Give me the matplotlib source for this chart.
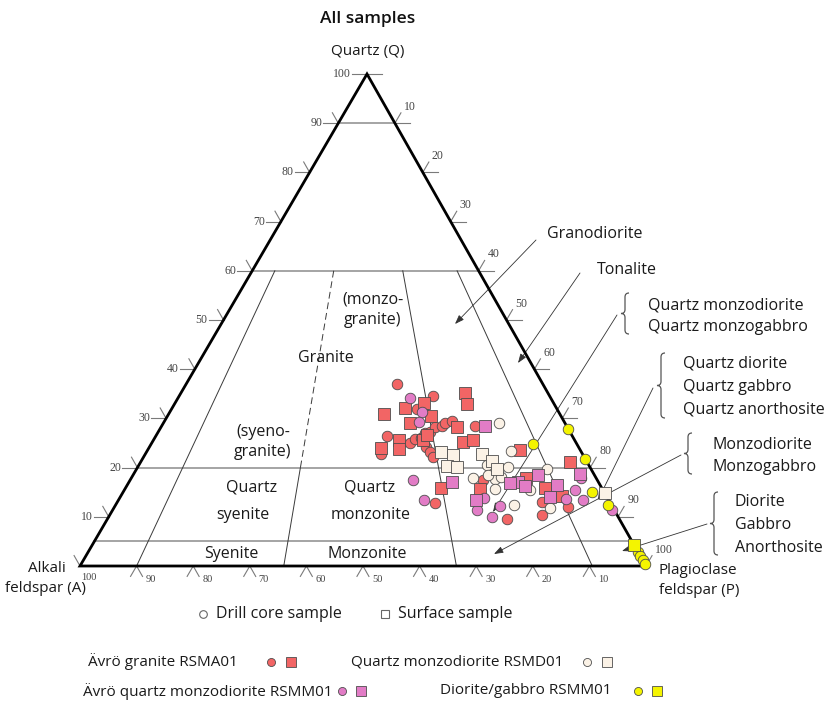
import matplotlib
matplotlib.use("Agg")
import matplotlib.pyplot as plt
import numpy as np
from matplotlib.path import Path
from matplotlib.patches import PathPatch, Polygon

plt.rcParams['font.family'] = ['Open Sans', 'DejaVu Sans']

# ---------------------------------------------------------------
# Modal compositions, % of Q+A+P  (Q = quartz, P = plagioclase,
# A = alkali feldspar = 100 - Q - P)
# ---------------------------------------------------------------
# Ävrö granite RSMA01
rsma01_core_q = [37.0, 34.6, 31.9, 28.5, 26.4, 22.8, 25.0, 25.9, 26.1, 27.0,
                 27.2, 28.2, 28.4, 29.1, 29.4, 24.2, 23.2, 22.2, 12.8, 17.5,
                 13.0, 12.0, 9.6, 10.4]
rsma01_core_p = [37.2, 44.8, 43.4, 55.4, 40.8, 41.6, 45.6, 46.0, 47.0, 47.2,
                 48.1, 48.5, 49.5, 49.8, 50.8, 48.9, 50.1, 51.1, 56.2, 62.3,
                 75.0, 80.1, 70.6, 76.4]
rsma01_surf_q = [35.2, 32.9, 33.1, 32.1, 30.9, 30.5, 29.1, 28.3, 25.6, 23.8,
                 24.0, 25.2, 25.6, 25.6, 26.6, 15.9, 15.7, 23.6, 21.1, 17.9,
                 15.9, 14.2]
rsma01_surf_p = [50.2, 51.7, 44.0, 41.1, 38.0, 46.6, 43.6, 52.3, 43.4, 44.3,
                 41.0, 54.9, 56.4, 47.6, 47.8, 55.7, 62.7, 65.8, 75.8, 69.7,
                 74.1, 77.9]

# Quartz monzodiorite RSMD01
rsmd01_core_q = [29.1, 23.4, 20.7, 20.5, 17.9, 17.7, 18.1, 18.5, 15.7, 20.1,
                 12.4, 11.8, 19.7, 15.5]
rsmd01_core_p = [59.3, 64.3, 55.7, 61.5, 60.4, 64.4, 65.2, 62.7, 65.4, 65.4,
                 70.4, 77.1, 72.5, 71.7]
rsmd01_surf_q = [23.2, 22.6, 20.3, 20.1, 22.8, 21.3, 19.7, 14.8]
rsmd01_surf_p = [52.0, 54.5, 54.5, 56.4, 59.5, 62.0, 63.7, 85.2]

# Ävrö quartz monzodiorite RSMM01
rsmm01_core_q = [34.1, 31.3, 29.3, 17.5, 13.4, 11.4, 10.0, 13.8, 12.2, 15.4,
                 17.9, 13.4, 11.4, 13.6]
rsmm01_core_p = [41.0, 44.6, 45.1, 50.0, 54.0, 64.4, 67.7, 64.4, 68.0, 79.6,
                 79.5, 82.1, 88.2, 79.0]
rsmm01_surf_q = [28.5, 17.1, 13.4, 17.1, 18.5, 16.9, 16.3, 14.0, 16.5, 18.7]
rsmm01_surf_p = [57.1, 57.1, 63.2, 68.7, 71.5, 67.4, 70.4, 75.9, 75.9, 78.9]

# Diorite/gabbro RSMM01
gabbro_core_q = [27.9, 21.7, 24.8, 15.0, 12.4, 2.9, 2.0, 1.2, 0.4]
gabbro_core_p = [72.1, 78.2, 67.5, 82.8, 87.0, 97.1, 98.0, 98.8, 99.6]
gabbro_surf_q = [4.3]
gabbro_surf_p = [95.7]

# Streckeisen field boundaries
ratio_lines = [10, 36, 66.5, 90.5]      # P/(A+P), %
quartz_levels = [90, 60, 20, 5]         # Q, %
tick_values = [10, 20, 30, 40, 50, 60, 70, 80, 90, 100]

RED = '#f26565'
PINK = '#e27cc6'
CREAM = '#fbf2e6'
YELLOW = '#f4f400'
EDGE = '#4d4d4d'

# ---------------------------------------------------------------
fig = plt.figure(figsize=(8.27, 7.09), dpi=100)
ax = fig.add_axes([0, 0, 1, 1])
ax.set_xlim(0, 827)
ax.set_ylim(709, 0)
ax.axis('off')

# corners of the triangle on the page
A_XY = np.array([80.0, 566.0])
P_XY = np.array([646.0, 566.0])
Q_XY = np.array([367.0, 74.0])


def tern(q, p):
    q = np.asarray(q, float) / 100.0
    p = np.asarray(p, float) / 100.0
    a = 1.0 - q - p
    x = a * A_XY[0] + p * P_XY[0] + q * Q_XY[0]
    y = a * A_XY[1] + p * P_XY[1] + q * Q_XY[1]
    return x, y


def unit(v):
    v = np.asarray(v, float)
    return v / np.hypot(*v)


u_left = unit(Q_XY - A_XY)    # along A -> Q
u_right = unit(Q_XY - P_XY)   # along P -> Q

GRID = '#8c8c8c'
FIELD = '#3a3a3a'

# horizontal quartz levels
for qv in quartz_levels:
    x0, y0 = tern(qv, 0)
    x1, y1 = tern(qv, 100 - qv)
    ax.plot([x0, x1], [y0, y1], color=GRID, lw=1.1, zorder=1)

# P/(A+P) ratio lines from Q = 60 down to the base
for r in ratio_lines:
    f = r / 100.0
    if r == ratio_lines[1]:
        xa, ya = tern(60, f * 40)
        xb, yb = tern(20, f * 80)
        ax.plot([xa, xb], [ya, yb], color=FIELD, lw=0.7, ls=(0, (7, 4)), zorder=1)
        xc, yc = tern(0, f * 100)
        ax.plot([xb, xc], [yb, yc], color=FIELD, lw=0.7, zorder=1)
    else:
        xa, ya = tern(60, f * 40)
        xc, yc = tern(0, f * 100)
        ax.plot([xa, xc], [ya, yc], color=FIELD, lw=0.7, zorder=1)

# triangle outline
tri = Polygon([A_XY, P_XY, Q_XY], closed=True, fill=False, edgecolor='black',
              lw=2.0, joinstyle='miter', zorder=3)
ax.add_patch(tri)

TICK = '#7a7a7a'
LAB = '#444444'
serif = ['Liberation Serif', 'DejaVu Serif']

# left edge: quartz scale
for v in [0] + tick_values:
    x, y = tern(v, 0)
    if v > 0:
        ax.plot([x - 15, x], [y, y], color=TICK, lw=0.8, zorder=2)
        ax.text(x - 16, y, str(v), ha='right', va='center', fontsize=8.5,
                family=serif, color=LAB)
    if v < 100:
        e = np.array([x, y]) + 12 * u_right
        ax.plot([x, e[0]], [y, e[1]], color=TICK, lw=0.8, zorder=2)

# right edge: plagioclase scale
for v in [0] + tick_values:
    x, y = tern(100 - v, v)
    if v < 100:
        ax.plot([x, x + 15], [y, y], color=TICK, lw=0.8, zorder=2)
    if v > 0:
        e = np.array([x, y]) + 12 * u_left
        ax.plot([x, e[0]], [y, e[1]], color=TICK, lw=0.8, zorder=2)
        ax.text(e[0] + 3, e[1] - 6, str(v), ha='left', va='center', fontsize=8.5,
                family=serif, color=LAB)

# base: alkali feldspar scale
for v in tick_values:
    x, y = tern(0, 100 - v)
    if v < 100:
        e1 = np.array([x, y]) - 12 * u_left
        e2 = np.array([x, y]) - 12 * u_right
        ax.plot([e1[0], x, e2[0]], [e1[1], y, e2[1]], color=TICK, lw=0.8, zorder=2)
        ax.text(x + 9, y + 13, str(v), ha='left', va='center', fontsize=7.5,
                family=serif, color=LAB)
    else:
        ax.text(x + 1, y + 11, str(v), ha='left', va='center', fontsize=7.5,
                family=serif, color=LAB)

# ---------------------------------------------------------------
# field names
TXT = '#1a1a1a'
FS = 11.5
field_text = [
    ('Granite', 326, 358), ('(monzo-', 373, 300), ('granite)', 373, 320),
    ('(syeno-', 263, 432), ('granite)', 263, 452),
    ('Quartz', 252, 487), ('syenite', 243, 515),
    ('Quartz', 370, 487), ('monzonite', 371, 515),
    ('Syenite', 231, 554), ('Monzonite', 367, 554),
]
for s, x, y in field_text:
    ax.text(x, y, s, ha='center', va='center', fontsize=FS, color=TXT)

side_text = [
    ('Granodiorite', 547, 234), ('Tonalite', 597, 270),
    ('Quartz monzodiorite', 648, 305), ('Quartz monzogabbro', 648, 327),
    ('Quartz diorite', 683, 363), ('Quartz gabbro', 683, 387),
    ('Quartz anorthosite', 683, 410),
    ('Monzodiorite', 712, 445), ('Monzogabbro', 712, 467),
    ('Diorite', 735, 502), ('Gabbro', 735, 525), ('Anorthosite', 735, 548),
]
for s, x, y in side_text:
    ax.text(x, y, s, ha='left', va='center', fontsize=FS, color=TXT)


def brace(x, y0, y1, w=8):
    r = w / 2.0
    ym = (y0 + y1) / 2.0
    verts = [(x + w, y0), (x + r, y0), (x + r, y0 + r),
             (x + r, ym - r), (x + r, ym), (x, ym),
             (x + r, ym), (x + r, ym + r),
             (x + r, y1 - r), (x + r, y1), (x + w, y1)]
    codes = [Path.MOVETO, Path.CURVE3, Path.CURVE3,
             Path.LINETO, Path.CURVE3, Path.CURVE3,
             Path.CURVE3, Path.CURVE3,
             Path.LINETO, Path.CURVE3, Path.CURVE3]
    ax.add_patch(PathPatch(Path(verts, codes), fill=False, edgecolor='#555555', lw=0.9))


brace(621, 293, 334)
brace(657, 353, 418)
brace(684, 433, 474)
brace(710, 492, 555)

arrows = [((536, 240), (455, 324)), ((580, 273), (518, 363)),
          ((617, 315), (493, 512)), ((653, 388), (598, 500)),
          ((681, 455), (494, 554)), ((707, 524), (622, 551))]
for tail, head in arrows:
    ax.annotate('', xy=head, xytext=tail, zorder=2,
                arrowprops=dict(arrowstyle='-|>,head_length=0.55,head_width=0.2',
                                lw=0.6, color='#333333', shrinkA=0, shrinkB=0))

# axis names and title
ax.text(368, 19, 'All samples', ha='center', va='center', fontsize=12.5,
        color='#111111', weight='semibold')
ax.text(368, 52, 'Quartz (Q)', ha='center', va='center', fontsize=11, color=TXT)
ax.text(47, 569, 'Alkali', ha='center', va='center', fontsize=11, color=TXT)
ax.text(45, 589, 'feldspar (A)', ha='center', va='center', fontsize=11, color=TXT)
ax.text(659, 571, 'Plagioclase', ha='left', va='center', fontsize=11, color=TXT)
ax.text(659, 591, 'feldspar (P)', ha='left', va='center', fontsize=11, color=TXT)

# ---------------------------------------------------------------
# samples
groups = [
    (rsma01_core_q, rsma01_core_p, 'o', RED),
    (rsma01_surf_q, rsma01_surf_p, 's', RED),
    (rsmd01_core_q, rsmd01_core_p, 'o', CREAM),
    (rsmd01_surf_q, rsmd01_surf_p, 's', CREAM),
    (rsmm01_core_q, rsmm01_core_p, 'o', PINK),
    (rsmm01_surf_q, rsmm01_surf_p, 's', PINK),
    (gabbro_core_q, gabbro_core_p, 'o', YELLOW),
    (gabbro_surf_q, gabbro_surf_p, 's', YELLOW),
]
for q, p, m, c in groups:
    x, y = tern(q, p)
    ax.plot(x, y, ls='none', marker=m, ms=7.6 if m == 'o' else 8.6,
            mfc=c, mec=EDGE, mew=0.6, zorder=4)

# ---------------------------------------------------------------
# key
ax.plot([203], [614], marker='o', ms=5.5, mfc='white', mec='#666666', mew=0.8, ls='none')
ax.text(216, 614, 'Drill core sample', ha='left', va='center', fontsize=11.5, color=TXT)
ax.plot([385], [614], marker='s', ms=6, mfc='white', mec='#666666', mew=0.8, ls='none')
ax.text(398, 614, 'Surface sample', ha='left', va='center', fontsize=11.5, color=TXT)

key = [
    ('Ävrö granite RSMA01', 88, 662, 271, 291, RED),
    ('Quartz monzodiorite RSMD01', 351, 662, 587, 607, CREAM),
    ('Ävrö quartz monzodiorite RSMM01', 83, 691, 342, 361, PINK),
    ('Diorite/gabbro RSMM01', 440, 691, 638, 657, YELLOW),
]
for s, tx, ty, cx, sx, c in key:
    ax.text(tx, ty, s, ha='left', va='center', fontsize=11, color=TXT)
    ax.plot([cx], [ty], marker='o', ms=5.8, mfc=c, mec=EDGE, mew=0.6, ls='none')
    ax.plot([sx], [ty], marker='s', ms=6.5, mfc=c, mec=EDGE, mew=0.6, ls='none')

fig.savefig('out.png', dpi=100)
